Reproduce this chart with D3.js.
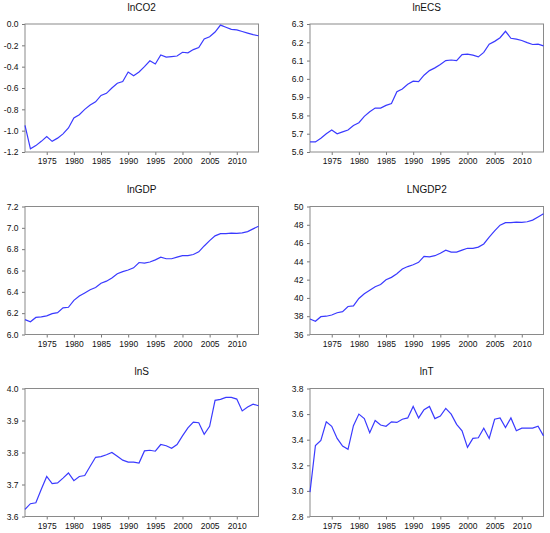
<!DOCTYPE html>
<html>
<head>
<meta charset="utf-8">
<script src="https://cdn.jsdelivr.net/npm/d3@7"></script>
<style>
body { margin: 0; background: #fff; }
svg text { font-family: "Liberation Sans", Arial, sans-serif; fill: #111; }
</style>
</head>
<body>
<svg id="chart" width="550" height="533"></svg>
<script>
const years = d3.range(1971, 2015);
const yearTicks = [1975, 1980, 1985, 1990, 1995, 2000, 2005, 2010];

const lnCO2 = [-0.95, -1.17, -1.14, -1.10, -1.055, -1.10, -1.07, -1.03, -0.975, -0.88,
	-0.85, -0.80, -0.76, -0.73, -0.67, -0.65, -0.60, -0.555, -0.54, -0.45,
	-0.485, -0.45, -0.40, -0.345, -0.375, -0.29, -0.31, -0.305, -0.30, -0.265,
	-0.27, -0.24, -0.22, -0.14, -0.12, -0.075, -0.01, -0.03, -0.05, -0.055,
	-0.07, -0.085, -0.10, -0.11];
const lnECS = [5.655, 5.655, 5.675, 5.70, 5.72, 5.70, 5.71, 5.72, 5.745, 5.76,
	5.795, 5.82, 5.84, 5.84, 5.855, 5.865, 5.93, 5.945, 5.97, 5.987,
	5.985, 6.02, 6.045, 6.06, 6.078, 6.10, 6.103, 6.10, 6.133, 6.135,
	6.13, 6.12, 6.145, 6.19, 6.205, 6.225, 6.26, 6.222, 6.217, 6.21,
	6.198, 6.188, 6.19, 6.18];
const lnGDP = [6.14, 6.12, 6.16, 6.165, 6.175, 6.195, 6.205, 6.25, 6.255, 6.32,
	6.36, 6.39, 6.42, 6.44, 6.48, 6.50, 6.53, 6.57, 6.59, 6.605,
	6.625, 6.675, 6.67, 6.68, 6.70, 6.725, 6.71, 6.71, 6.725, 6.74,
	6.74, 6.75, 6.775, 6.83, 6.88, 6.925, 6.945, 6.945, 6.95, 6.948,
	6.952, 6.965, 6.99, 7.015];
const lnGDP2 = [37.7, 37.45, 37.95, 38.0, 38.13, 38.38, 38.5, 39.06, 39.13, 39.94,
	40.45, 40.83, 41.22, 41.47, 41.99, 42.25, 42.64, 43.16, 43.43, 43.63,
	43.89, 44.55, 44.49, 44.62, 44.89, 45.23, 45.02, 45.02, 45.23, 45.43,
	45.43, 45.56, 45.90, 46.65, 47.33, 47.96, 48.23, 48.23, 48.30, 48.27,
	48.33, 48.51, 48.86, 49.21];
const lnS = [3.622, 3.64, 3.643, 3.685, 3.725, 3.703, 3.705, 3.72, 3.736, 3.712,
	3.725, 3.728, 3.757, 3.785, 3.787, 3.793, 3.80, 3.788, 3.776, 3.77,
	3.77, 3.767, 3.805, 3.807, 3.804, 3.825, 3.821, 3.813, 3.825, 3.852,
	3.877, 3.895, 3.893, 3.857, 3.882, 3.963, 3.966, 3.972, 3.972, 3.967,
	3.93, 3.942, 3.951, 3.946];
const lnT = [2.99, 3.355, 3.395, 3.54, 3.505, 3.41, 3.35, 3.325, 3.51, 3.60,
	3.565, 3.455, 3.55, 3.515, 3.505, 3.54, 3.535, 3.56, 3.57, 3.66,
	3.57, 3.635, 3.66, 3.565, 3.585, 3.645, 3.60, 3.52, 3.47, 3.34,
	3.41, 3.415, 3.49, 3.41, 3.56, 3.57, 3.495, 3.57, 3.47, 3.49,
	3.49, 3.49, 3.505, 3.43];

const titles = ['lnCO2', 'lnECS', 'lnGDP', 'LNGDP2', 'lnS', 'lnT'];
const series = [lnCO2, lnECS, lnGDP, lnGDP2, lnS, lnT];
const yDomains = [[-1.2, 0], [5.6, 6.3], [6.0, 7.2], [36, 50], [3.6, 4.0], [2.8, 3.8]];
const yTicks = [
	[-1.2, -1.0, -0.8, -0.6, -0.4, -0.2, 0.0],
	[5.6, 5.7, 5.8, 5.9, 6.0, 6.1, 6.2, 6.3],
	[6.0, 6.2, 6.4, 6.6, 6.8, 7.0, 7.2],
	[36, 38, 40, 42, 44, 46, 48, 50],
	[3.6, 3.7, 3.8, 3.9, 4.0],
	[2.8, 3.0, 3.2, 3.4, 3.6, 3.8]
];
const yDigits = [1, 1, 1, 0, 1, 1];

const svg = d3.select('#chart');
const lefts = [25, 310];
const tops = [24, 206.5, 388.5];
const w = 233.5;
const h = 128;

titles.forEach((title, i) => {
	const left = lefts[i % 2];
	const top = tops[Math.floor(i / 2)];
	const g = svg.append('g').attr('transform', `translate(${left}, ${top})`);

	const x = d3.scaleLinear().domain([1971, 2014]).range([0, w]);
	const y = d3.scaleLinear().domain(yDomains[i]).range([h, 0]);

	const xAxis = g.append('g')
		.attr('transform', `translate(0, ${h})`)
		.call(d3.axisBottom(x).tickValues(yearTicks).tickFormat(d3.format('d')).tickSize(3).tickPadding(3).tickSizeOuter(0));
	const yAxis = g.append('g')
		.call(d3.axisLeft(y).tickValues(yTicks[i]).tickFormat((d) => d.toFixed(yDigits[i])).tickSize(3).tickPadding(3.5).tickSizeOuter(0));

	[xAxis, yAxis].forEach((a) => {
		a.select('.domain').remove();
		a.selectAll('line').attr('stroke', '#777');
		a.selectAll('text').style('font-size', '8.5px').attr('fill', '#111');
	});

	g.append('rect')
		.attr('width', w)
		.attr('height', h)
		.attr('fill', 'none')
		.attr('stroke', '#8a8a8a')
		.attr('stroke-width', 1);

	const line = d3.line()
		.x((d, j) => x(years[j]))
		.y((d) => y(d));

	g.append('path')
		.datum(series[i])
		.attr('d', line)
		.attr('fill', 'none')
		.attr('stroke', '#3a3aff')
		.attr('stroke-width', 1.2);

	g.append('text')
		.attr('x', w / 2)
		.attr('y', -13.5)
		.attr('text-anchor', 'middle')
		.style('font-size', '10px')
		.text(title);
});
</script>
</body>
</html>
